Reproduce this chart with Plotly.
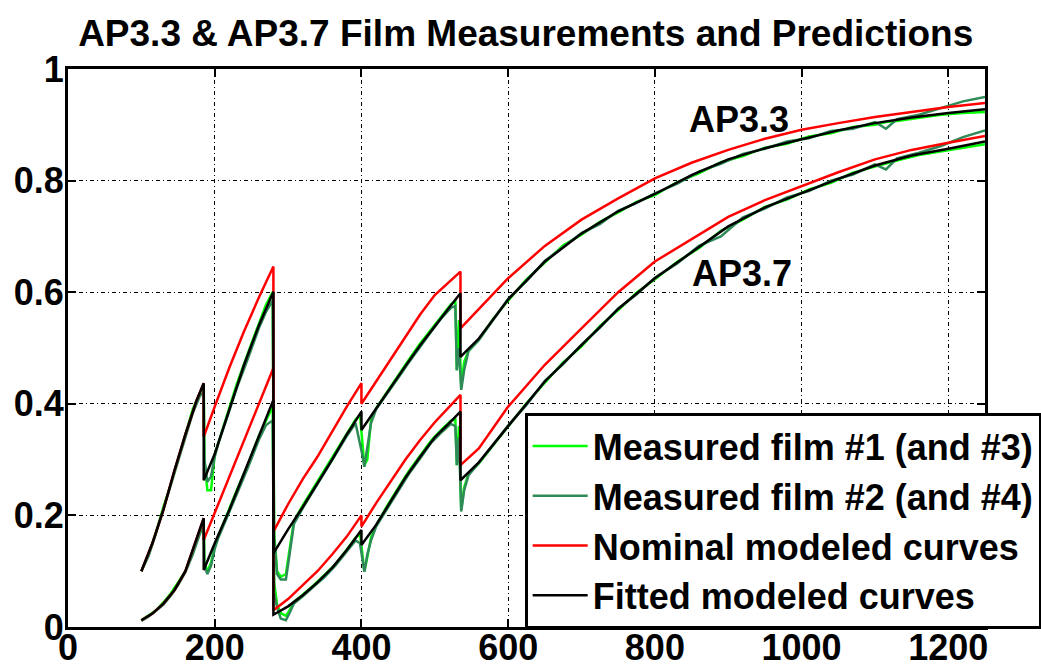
import plotly.graph_objects as go

TITLE = "AP3.3 & AP3.7 Film Measurements and Predictions"
LEGEND_NAMES = ["Measured film #1 (and #3)", "Measured film #2 (and #4)",
                "Nominal modeled curves", "Fitted modeled curves"]
X_TICKS = [0, 200, 400, 600, 800, 1000, 1200]
Y_TICKS = [0, 0.2, 0.4, 0.6, 0.8, 1]

# modeled curves (duplicate x = exposure step)
MODEL_X = [100, 115, 130, 145, 160, 175, 185,
           185, 200, 220, 240, 260, 280,
           280, 300, 320, 340, 360, 380, 400,
           400, 420, 440, 460, 480, 500, 520, 535,
           535, 560, 600, 650, 700, 750, 800, 850, 900, 950, 1000, 1050, 1100, 1150, 1200, 1250]

AP33_NOMINAL = [0.10, 0.15, 0.21, 0.28, 0.345, 0.405, 0.437,
                0.341, 0.395, 0.465, 0.53, 0.59, 0.646,
                0.171, 0.22, 0.265, 0.305, 0.35, 0.395, 0.437,
                0.40, 0.44, 0.48, 0.52, 0.56, 0.595, 0.62, 0.637,
                0.535, 0.57, 0.625, 0.683, 0.73, 0.768, 0.804, 0.832, 0.855, 0.875, 0.891, 0.903, 0.914, 0.923, 0.932, 0.939]
AP33_FITTED = [0.10, 0.15, 0.21, 0.28, 0.345, 0.405, 0.437,
               0.263, 0.31, 0.39, 0.47, 0.54, 0.601,
               0.132, 0.175, 0.215, 0.257, 0.30, 0.345, 0.386,
               0.353, 0.392, 0.43, 0.468, 0.505, 0.54, 0.573, 0.598,
               0.484, 0.517, 0.587, 0.655, 0.705, 0.745, 0.776, 0.81, 0.838, 0.858, 0.874, 0.89, 0.903, 0.913, 0.921, 0.928]
AP37_NOMINAL = [0.012, 0.024, 0.042, 0.066, 0.10, 0.155, 0.195,
                0.156, 0.205, 0.27, 0.335, 0.40, 0.464,
                0.030, 0.05, 0.075, 0.10, 0.13, 0.162, 0.20,
                0.18, 0.222, 0.262, 0.30, 0.335, 0.367, 0.395, 0.416,
                0.29, 0.32, 0.395, 0.47, 0.535, 0.60, 0.655, 0.695, 0.735, 0.765, 0.79, 0.815, 0.838, 0.855, 0.868, 0.88]
AP37_FITTED = [0.012, 0.024, 0.042, 0.066, 0.10, 0.155, 0.195,
               0.102, 0.15, 0.21, 0.275, 0.34, 0.407,
               0.022, 0.037, 0.057, 0.08, 0.106, 0.138, 0.174,
               0.147, 0.183, 0.225, 0.268, 0.305, 0.34, 0.366, 0.386,
               0.263, 0.295, 0.36, 0.44, 0.505, 0.57, 0.625, 0.672, 0.718, 0.752, 0.778, 0.803, 0.827, 0.845, 0.857, 0.87]

# measured films
MEAS_X = [100, 110, 120, 130, 140, 150, 160, 170, 180, 185,
          186, 190, 195, 200, 205,
          215, 230, 245, 260, 270, 279,
          281, 285, 290, 297, 302, 308,
          320, 335, 350, 365, 380, 392, 398,
          401, 404, 408, 413, 420,
          435, 450, 465, 480, 495, 510, 522, 528,
          530, 533, 536, 540, 546,
          560, 580, 600, 625, 650, 675, 700, 725, 750, 775, 800, 830, 860, 890, 920, 950, 980,
          1010, 1040, 1070, 1100, 1115, 1130, 1160, 1190, 1220, 1250]

AP33_FILM1 = [0.10, 0.13, 0.17, 0.215, 0.255, 0.30, 0.345, 0.39, 0.42, 0.43,
              0.30, 0.245, 0.245, 0.31, 0.33,
              0.372, 0.435, 0.49, 0.545, 0.578, 0.60,
              0.17, 0.10, 0.09, 0.095, 0.14, 0.19,
              0.218, 0.25, 0.283, 0.313, 0.347, 0.372, 0.38,
              0.33, 0.29, 0.30, 0.37, 0.392,
              0.422, 0.45, 0.48, 0.508, 0.533, 0.56, 0.578, 0.585,
              0.46, 0.55, 0.43, 0.475, 0.495,
              0.515, 0.553, 0.585, 0.623, 0.653, 0.684, 0.703, 0.726, 0.743, 0.762, 0.774, 0.797, 0.813, 0.833, 0.844, 0.859, 0.866,
              0.879, 0.885, 0.896, 0.90, 0.905, 0.907, 0.913, 0.918, 0.921, 0.923]
AP33_FILM2 = [0.10, 0.128, 0.168, 0.212, 0.252, 0.297, 0.34, 0.383, 0.415, 0.42,
              0.30, 0.26, 0.27, 0.305, 0.33,
              0.368, 0.428, 0.48, 0.535, 0.565, 0.585,
              0.16, 0.095, 0.085, 0.085, 0.13, 0.185,
              0.213, 0.245, 0.277, 0.308, 0.342, 0.365, 0.33,
              0.31, 0.287, 0.32, 0.365, 0.39,
              0.417, 0.446, 0.475, 0.503, 0.529, 0.555, 0.572, 0.575,
              0.46, 0.50, 0.425, 0.46, 0.495,
              0.514, 0.55, 0.588, 0.62, 0.656, 0.681, 0.706, 0.722, 0.746, 0.76, 0.777, 0.794, 0.816, 0.83, 0.848, 0.857, 0.87,
              0.876, 0.889, 0.893, 0.905, 0.893, 0.91, 0.918, 0.93, 0.942, 0.95]
AP37_FILM3 = [0.012, 0.021, 0.03, 0.044, 0.06, 0.08, 0.10, 0.135, 0.172, 0.19,
              0.115, 0.10, 0.115, 0.145, 0.163,
              0.197, 0.245, 0.29, 0.342, 0.37, 0.395,
              0.08, 0.04, 0.025, 0.02, 0.03, 0.045,
              0.058, 0.075, 0.094, 0.113, 0.139, 0.16, 0.168,
              0.13, 0.10, 0.125, 0.16, 0.182,
              0.217, 0.249, 0.28, 0.307, 0.334, 0.355, 0.37, 0.372,
              0.29, 0.36, 0.21, 0.25, 0.275,
              0.293, 0.326, 0.358, 0.401, 0.438, 0.474, 0.503, 0.539, 0.568, 0.599, 0.623, 0.654, 0.679, 0.71, 0.73, 0.753, 0.766,
              0.784, 0.796, 0.814, 0.825, 0.831, 0.836, 0.846, 0.852, 0.858, 0.865]
AP37_FILM4 = [0.011, 0.019, 0.029, 0.04, 0.056, 0.075, 0.098, 0.13, 0.168, 0.18,
              0.11, 0.095, 0.11, 0.14, 0.16,
              0.19, 0.238, 0.285, 0.335, 0.362, 0.37,
              0.06, 0.035, 0.015, 0.012, 0.025, 0.042,
              0.055, 0.072, 0.09, 0.111, 0.135, 0.155, 0.15,
              0.12, 0.099, 0.13, 0.155, 0.18,
              0.212, 0.244, 0.275, 0.302, 0.33, 0.35, 0.364, 0.36,
              0.29, 0.34, 0.207, 0.245, 0.272,
              0.294, 0.328, 0.361, 0.398, 0.441, 0.471, 0.506, 0.536, 0.571, 0.596, 0.626, 0.651, 0.683, 0.70, 0.734, 0.75, 0.77,
              0.781, 0.80, 0.811, 0.829, 0.82, 0.84, 0.85, 0.862, 0.878, 0.89]

LIME = "#00FF00"
DKGREEN = "#2E8B57"
RED = "#FF0000"
BLACK = "#000000"
FONT = "Liberation Sans, Arial, sans-serif"

fig = go.Figure()

def add(x, y, color, name, group, show):
    fig.add_trace(go.Scatter(x=x, y=y, mode="lines", name=name, legendgroup=group,
                             showlegend=show, line=dict(color=color, width=2.5)))

add(MEAS_X, AP33_FILM1, LIME, LEGEND_NAMES[0], "m1", True)
add(MEAS_X, AP37_FILM3, LIME, LEGEND_NAMES[0], "m1", False)
add(MEAS_X, AP33_FILM2, DKGREEN, LEGEND_NAMES[1], "m2", True)
add(MEAS_X, AP37_FILM4, DKGREEN, LEGEND_NAMES[1], "m2", False)
add(MODEL_X, AP33_NOMINAL, RED, LEGEND_NAMES[2], "nom", True)
add(MODEL_X, AP37_NOMINAL, RED, LEGEND_NAMES[2], "nom", False)
add(MODEL_X, AP33_FITTED, BLACK, LEGEND_NAMES[3], "fit", True)
add(MODEL_X, AP37_FITTED, BLACK, LEGEND_NAMES[3], "fit", False)

axis_common = dict(showgrid=True, gridcolor="black", gridwidth=1, griddash="4px,3px,1px,3px",
                   showline=True, linecolor="black", linewidth=3, mirror="allticks",
                   ticks="inside", ticklen=8, tickwidth=2, tickcolor="black", zeroline=False,
                   automargin=False,
                   tickfont=dict(family=FONT, size=36, color="black", weight="bold"))

fig.update_xaxes(range=[0, 1250], tickvals=X_TICKS, ticktext=[str(v) for v in X_TICKS],
                 ticklabelstandoff=-13, **axis_common)
fig.update_yaxes(range=[0, 1], tickvals=Y_TICKS, ticktext=["0", "0.2", "0.4", "0.6", "0.8", "1"],
                 ticklabelstandoff=-6, **axis_common)

fig.add_annotation(x=915, y=0.909, text="AP3.3", showarrow=False,
                   font=dict(family=FONT, size=36, color="black", weight="bold"))
fig.add_annotation(x=919, y=0.634, text="AP3.7", showarrow=False,
                   font=dict(family=FONT, size=36, color="black", weight="bold"))

fig.update_layout(
    width=1041, height=666,
    margin=dict(l=68, r=56, t=69, b=39, autoexpand=False),
    paper_bgcolor="white", plot_bgcolor="white",
    font=dict(family=FONT, size=36, color="black", weight="bold"),
    title=dict(text=TITLE, x=0.505, xanchor="center", y=1 - 33 / 666, yanchor="middle",
               font=dict(family=FONT, size=37, color="black", weight="bold")),
    legend=dict(x=0.498, y=0.3835, xanchor="left", yanchor="top", bgcolor="white",
                bordercolor="black", borderwidth=3, itemwidth=55, tracegroupgap=0,
                font=dict(family=FONT, size=36, color="black", weight="bold")),
)

fig.write_html("out.html", config={"displayModeBar": False},
               post_script="document.body.style.margin='0';document.body.style.overflow='hidden';")
